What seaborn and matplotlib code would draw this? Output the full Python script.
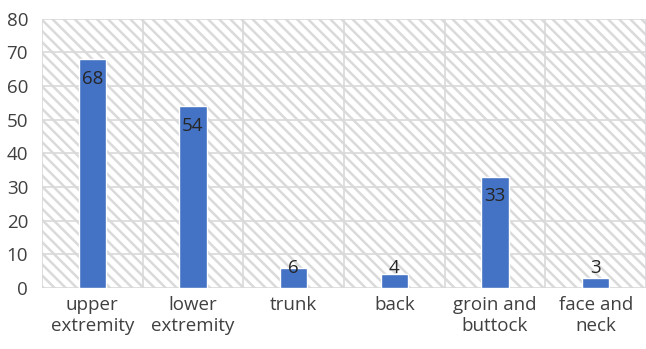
import numpy as np
import pandas as pd
import seaborn as sns
from matplotlib import pyplot as plt
from matplotlib.patches import Rectangle

categories = ["upper\nextremity", "lower\nextremity", "trunk", "back",
              "groin and\nbuttock", "face and\nneck"]
counts = [68, 54, 6, 4, 33, 3]

df = pd.DataFrame({"site": categories, "count": counts})

sns.set_style("white")
plt.rcParams["font.family"] = ["Open Sans", "DejaVu Sans"]
plt.rcParams["hatch.linewidth"] = 1.8

fig = plt.figure(figsize=(6.46, 3.49), dpi=100)
ax = fig.add_axes([0.065, 0.175, 0.935, 0.771])

# hatched plot-area background like the Excel pattern fill
bg = Rectangle((0, 0), 1, 1, transform=ax.transAxes, fill=False,
               hatch="\\\\\\", edgecolor="#DADADA", linewidth=0, zorder=0)
ax.add_patch(bg)

sns.barplot(data=df, x="site", y="count", color="#4472C4", width=0.27,
            saturation=1, ax=ax, zorder=3)

ax.set_ylim(0, 80)
ax.set_xlim(-0.5, len(categories) - 0.5)
ax.set_yticks(np.arange(0, 81, 10))
ax.set_xlabel("")
ax.set_ylabel("")

# grid: horizontal at each tick, vertical between categories
for y in np.arange(0, 81, 10):
    ax.axhline(y, color="#D9D9D9", lw=1.2, zorder=1)
for x in np.arange(-0.5, len(categories), 1.0):
    ax.axvline(x, color="#D9D9D9", lw=1.2, zorder=1)

for s in ax.spines.values():
    s.set_visible(False)

ax.tick_params(axis="both", length=0, labelsize=13.5, labelcolor="#404040")
ax.tick_params(axis="x", pad=6)
ax.tick_params(axis="y", pad=10)

# data labels: inside end, but never below the baseline area
for i, v in enumerate(counts):
    ax.text(i, max(v - 5.8, 5.8), str(v), ha="center", va="center",
            fontsize=13.5, color="#262626", zorder=4)

plt.savefig("out.png", dpi=100)
